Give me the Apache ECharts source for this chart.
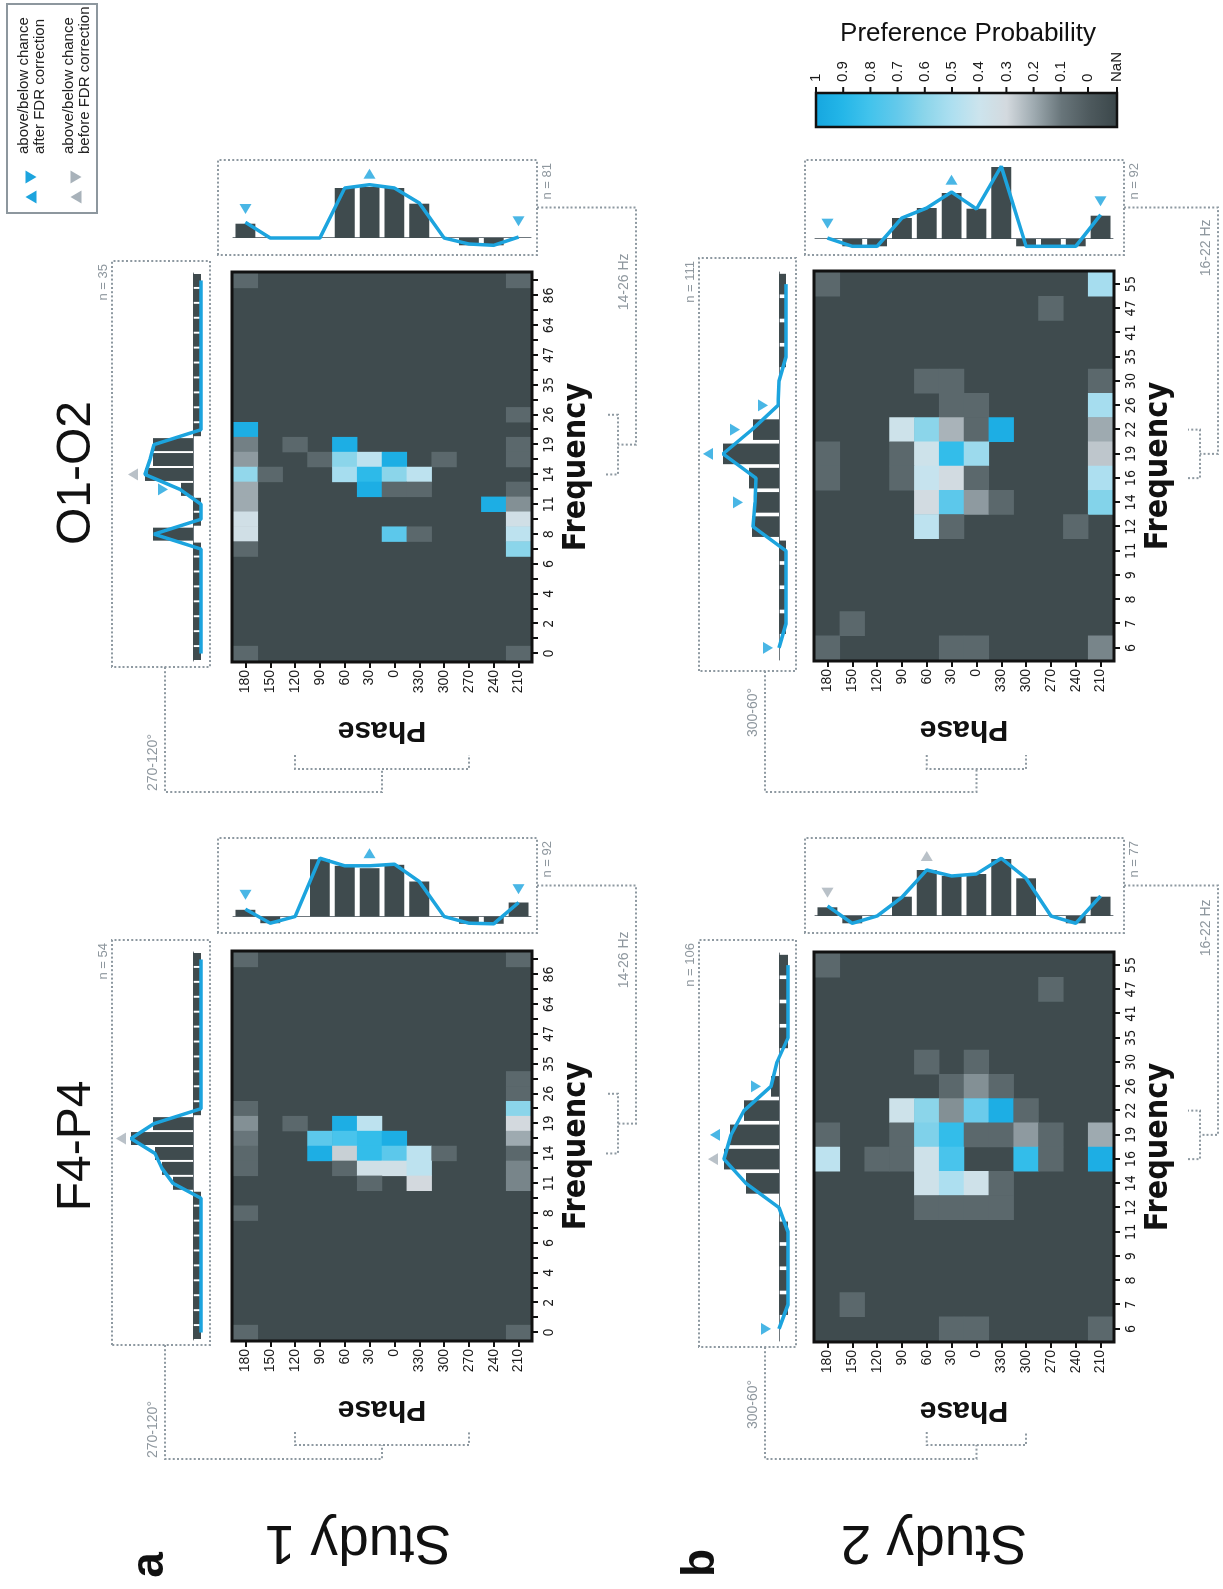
<!DOCTYPE html>
<html>
<head>
<meta charset="utf-8">
<script src="https://cdn.jsdelivr.net/npm/echarts/dist/echarts.min.js"></script>
<style>
html,body{margin:0;padding:0;background:#fff;}
body{width:1223px;height:1589px;overflow:hidden;position:relative;}
#rot{position:absolute;left:0;top:0;width:1589px;height:1223px;transform-origin:0 0;transform:translate(0px,1589px) rotate(-90deg);}
#chart{width:1589px;height:1223px;background:#fff;}
</style>
</head>
<body>
<div id="rot"><div id="chart"></div></div>
<script>
// ---------------- DATA ----------------
const PHASE = ['180','150','120','90','60','30','0','330','300','270','240','210'];
const FREQ_S1 = ['0','1','2','3','4','5','6','7','8','9','11','12','14','16','19','22','26','30','35','41','47','55','64','74','86','100'];
const FREQ_S2 = ['6','7','8','9','11','12','14','16','19','22','26','30','35','41','47','55'];
const PROB_TICKS = ['1','0.9','0.8','0.7','0.6','0.5','0.4','0.3','0.2','0.1','0','NaN'];
const TITLES = ['F4-P4','O1-O2'];
const STUDIES = ['Study 1','Study 2'];
const LETTERS = ['a','b'];
const PHASE_BANDS = [['120','270'],['60','300']];
const PHASE_BAND_LABELS = ['270-120°','300-60°'];
const FREQ_BANDS = [['14','26'],['16','22']];
const FREQ_BAND_LABELS = ['14-26 Hz','16-22 Hz'];
const LEGEND_LINES = [['above/below chance','after FDR correction'],['above/below chance','before FDR correction']];

// heatmap cells: [frequency index, phase index, preference probability]
const heatS1F4P4 = [
 [25,0,.05],[25,11,.05],[17,11,.05],[16,11,.05],[15,0,.05],[15,11,.6],
 [14,0,.15],[14,2,.05],[14,4,.95],[14,5,.45],[14,11,.3],
 [13,0,.1],[13,3,.72],[13,4,.78],[13,5,.85],[13,6,.95],[13,11,.2],
 [12,0,.05],[12,3,.95],[12,4,.28],[12,5,.85],[12,6,.72],[12,7,.45],[12,8,.05],[12,11,.05],
 [11,0,.05],[11,4,.05],[11,5,.35],[11,6,.35],[11,7,.45],[11,11,.13],
 [10,5,.05],[10,7,.3],[10,11,.13],[8,0,.05],[0,0,.05],[0,11,.05]
];
const heatS1O1O2 = [
 [25,0,.05],[25,11,.05],[16,11,.05],[15,0,.95],
 [14,0,.12],[14,2,.05],[14,4,.95],[14,11,.05],
 [13,0,.17],[13,3,.05],[13,4,.6],[13,5,.45],[13,6,.95],[13,8,.05],[13,11,.05],
 [12,0,.58],[12,1,.05],[12,4,.52],[12,5,.87],[12,6,.6],[12,7,.45],
 [11,0,.2],[11,5,.95],[11,6,.05],[11,7,.05],[11,11,.05],
 [10,0,.2],[10,10,.95],[10,11,.15],[9,0,.35],[9,11,.35],
 [8,0,.35],[8,6,.72],[8,7,.05],[8,11,.45],[7,0,.05],[7,11,.6],[0,0,.05],[0,11,.05]
];
const heatS2F4P4 = [
 [15,0,.05],[14,9,.05],[11,4,.05],[11,6,.05],[10,5,.05],[10,6,.15],[10,7,.05],
 [9,3,.38],[9,4,.6],[9,5,.15],[9,6,.68],[9,7,.95],[9,8,.05],
 [8,0,.05],[8,3,.05],[8,4,.63],[8,5,.85],[8,6,.05],[8,7,.05],[8,8,.17],[8,9,.05],[8,11,.2],
 [7,0,.45],[7,2,.05],[7,3,.05],[7,4,.37],[7,5,.78],[7,8,.85],[7,9,.05],[7,11,.95],
 [6,4,.37],[6,5,.5],[6,6,.37],[6,7,.05],[5,4,.05],[5,5,.05],[5,6,.05],[5,7,.05],
 [1,1,.05],[0,5,.05],[0,6,.05],[0,11,.05]
];
const heatS2O1O2 = [
 [15,0,.05],[15,11,.52],[14,9,.05],[11,4,.05],[11,5,.05],[11,11,.05],
 [10,5,.05],[10,6,.05],[10,11,.52],
 [9,3,.38],[9,4,.6],[9,5,.22],[9,6,.05],[9,7,.95],[9,11,.2],
 [8,0,.05],[8,3,.05],[8,4,.38],[8,5,.85],[8,6,.55],[8,11,.26],
 [7,0,.05],[7,3,.05],[7,4,.42],[7,5,.32],[7,6,.05],[7,11,.5],
 [6,4,.32],[6,5,.72],[6,6,.17],[6,7,.05],[6,11,.62],
 [5,4,.45],[5,5,.05],[5,10,.05],[1,1,.05],[0,0,.05],[0,5,.05],[0,6,.05],[0,11,.13]
];

// frequency histograms (bars + smoothed line), one value per frequency bin
const freqBarsS1F4P4 = [-0.8,-0.8,-0.8,-0.8,-0.8,-0.8,-0.8,-0.8,-0.8,-0.8,2.0,3.1,3.8,6.2,4.0,-0.8,-0.8,-0.8,-0.8,-0.8,-0.8,-0.8,-0.8,-0.8,-0.8,-0.8];
const freqLineS1F4P4 = [-0.8,-0.8,-0.8,-0.8,-0.8,-0.8,-0.8,-0.8,-0.8,-0.8,2.0,3.1,3.8,6.2,3.9,-0.8,-0.8,-0.8,-0.8,-0.8,-0.8,-0.8,-0.8,-0.8,-0.8,-0.8];
const freqBarsS1O1O2 = [-0.8,-0.8,-0.8,-0.8,-0.8,-0.8,-0.8,-0.8,4.0,-0.8,-0.8,1.2,4.8,4.0,4.0,-0.8,-0.8,-0.8,-0.8,-0.8,-0.8,-0.8,-0.8,-0.8,-0.8,-0.8];
const freqLineS1O1O2 = [-0.8,-0.8,-0.8,-0.8,-0.8,-0.8,-0.8,-0.8,3.9,-0.8,-0.8,1.3,4.8,4.3,3.9,-0.8,-0.8,-0.8,-0.8,-0.8,-0.8,-0.8,-0.8,-0.8,-0.8,-0.8];
const freqBarsS2F4P4 = [0,-0.9,-0.9,-0.9,-0.9,0,3.3,5.5,4.9,3.5,0.8,0,-0.9,-0.9,-0.9,-0.9];
const freqLineS2F4P4 = [0,-0.9,-0.9,-0.9,-0.9,0,3.3,5.5,4.8,3.5,0.8,0.2,-0.9,-0.9,-0.9,-0.9];
const freqBarsS2O1O2 = [0,-0.7,-0.7,-0.7,-0.7,2.7,2.4,3.0,5.6,2.6,0,0,-0.7,-0.7,-0.7,-0.7];
const freqLineS2O1O2 = [0,-0.7,-0.7,-0.7,-0.7,2.6,2.4,2.3,5.6,2.7,0.1,0,-0.7,-0.7,-0.7,-0.7];
// markers: [bin index, position value, direction (1 above / -1 below), 1 = after FDR, 0 = before FDR]
const freqMarksS1F4P4 = [[13,7.2,1,0]];
const freqMarksS1O1O2 = [[12,6.0,1,0],[11,3.0,-1,1]];
const freqMarksS2F4P4 = [[0,1.3,-1,1],[7,6.6,1,0],[8,6.4,1,1],[10,2.3,-1,1]];
const freqMarksS2O1O2 = [[0,1.1,-1,1],[6,4.1,-1,1],[8,7.1,1,1],[9,4.4,-1,1],[10,1.6,-1,1]];

// phase histograms, one value per phase bin (order of PHASE)
const phaseBarsS1F4P4 = [0.67,-0.67,0,5.73,5.07,4.83,5.17,3.5,0,-0.73,-0.73,1.4];
const phaseLineS1F4P4 = [0.73,-0.67,0,5.83,5.07,5.07,5.23,3.5,0,-0.67,-0.73,1.4];
const phaseBarsS1O1O2 = [1.43,0,0,0,5.0,5.1,5.0,3.43,0,-0.73,-0.73,0];
const phaseLineS1O1O2 = [1.57,0,0,0,5.0,5.33,5.0,3.5,0,-0.6,-0.73,0.1];
const phaseBarsS2F4P4 = [0.87,-0.73,0,1.93,4.6,4.0,4.2,5.7,3.77,0,-0.73,1.93];
const phaseLineS2F4P4 = [1.0,-0.73,0,1.87,4.6,4.0,4.2,5.77,3.77,0,-0.73,2.0];
const phaseBarsS2O1O2 = [0,-0.73,-0.73,2.1,3.1,4.6,3.03,7.2,-0.73,-0.73,-0.73,2.33];
const phaseLineS2O1O2 = [0.1,-0.73,-0.73,2.1,3.1,4.7,3.0,7.27,-0.73,-0.73,-0.73,2.43];
const phaseMarksS1F4P4 = [[0,2.17,-1,1],[5,6.33,1,1],[11,2.73,-1,1]];
const phaseMarksS1O1O2 = [[0,2.9,-1,1],[5,6.43,1,1],[11,1.67,-1,1]];
const phaseMarksS2F4P4 = [[0,2.33,-1,0],[4,6.0,1,0]];
const phaseMarksS2O1O2 = [[0,1.53,-1,1],[5,5.93,1,1],[11,3.77,-1,1]];

const N_FREQ = [54,35,106,111];
const N_PHASE = [92,81,77,92];

// ---------------- STYLE / LAYOUT ----------------
const SANS = "'Liberation Sans', Arial, Helvetica, sans-serif";
const NARROW = "'Liberation Sans Narrow', 'DejaVu Sans Condensed', 'Liberation Sans', sans-serif";
const BLUE = '#1ca4de', GREYM = '#a8b2ba', DARK = '#3f4b4e', ANN = '#8e99a1';
const COLORS = ['#4e5a5e','#68757a','#9eaab0','#d3d9de','#cce4ed','#addff0','#8bd5ea','#63c9eb','#42c3ec','#24b6e8','#15a6df'];
const W = 388, H = 298;
const PANELS = [
 {study:0,col:0,cats:FREQ_S1,heat:heatS1F4P4,fB:freqBarsS1F4P4,fL:freqLineS1F4P4,fM:freqMarksS1F4P4,pB:phaseBarsS1F4P4,pL:phaseLineS1F4P4,pM:phaseMarksS1F4P4,
  X0:249,Y0:233,fBase:193,pBase:672.5,fBox:[244,112,405,98],pBox:[656,218,95,319],
  conY:165,cornerX:130,brX:144,tkX:157,labX:131,fLabDx:46},
 {study:0,col:1,cats:FREQ_S1,heat:heatS1O1O2,fB:freqBarsS1O1O2,fL:freqLineS1O1O2,fM:freqMarksS1O1O2,pB:phaseBarsS1O1O2,pL:phaseLineS1O1O2,pM:phaseMarksS1O1O2,
  X0:928,Y0:233,fBase:193,pBase:1351,fBox:[922,112,406,98],pBox:[1334,218,95,319],
  conY:165,cornerX:797,brX:820,tkX:834,labX:798,fLabDx:46},
 {study:1,col:0,cats:FREQ_S2,heat:heatS2F4P4,fB:freqBarsS2F4P4,fL:freqLineS2F4P4,fM:freqMarksS2F4P4,pB:phaseBarsS2F4P4,pL:phaseLineS2F4P4,pM:phaseMarksS2F4P4,
  X0:248,Y0:815,fBase:779,pBase:673,fBox:[242,699,407,97],pBox:[656,805,95,319],
  conY:765,cornerX:130,brX:144,tkX:157,labX:160,fLabDx:14},
 {study:1,col:1,cats:FREQ_S2,heat:heatS2O1O2,fB:freqBarsS2O1O2,fL:freqLineS2O1O2,fM:freqMarksS2O1O2,pB:phaseBarsS2O1O2,pL:phaseLineS2O1O2,pM:phaseMarksS2O1O2,
  X0:929,Y0:815,fBase:779,pBase:1350,fBox:[918,699,413,97],pBox:[1334,805,95,319],
  conY:765,cornerX:797,brX:820,tkX:834,labX:852,fLabDx:12}
];

const grids = [], xAxes = [], yAxes = [], series = [], heatIdx = [];
const tickStyle = {show:true, alignWithLabel:true, interval:0, length:7, lineStyle:{color:'#111', width:2}};
PANELS.forEach((p, i) => {
  const hx = 3*i, fx = 3*i+1, px = 3*i+2;
  grids.push({left:p.X0, top:p.Y0, width:W, height:H, show:true, backgroundColor:DARK, borderWidth:0});
  xAxes.push({type:'category', gridIndex:hx, data:p.cats, axisLine:{show:false}, splitLine:{show:false},
    axisTick:tickStyle, axisLabel:{interval:p.study===0?1:0, margin:11, fontSize:14, fontFamily:NARROW, color:'#1a1a1a'},
    name:'Frequency', nameLocation:'middle', nameGap:30, nameTextStyle:{fontSize:32, fontWeight:'bold', fontFamily:NARROW, color:'#111'}});
  yAxes.push({type:'category', gridIndex:hx, data:PHASE, inverse:true, axisLine:{show:false}, splitLine:{show:false},
    axisTick:tickStyle, axisLabel:{interval:0, margin:9, fontSize:14, fontFamily:SANS, color:'#1a1a1a'},
    name:'Phase', nameLocation:'middle', nameRotate:90, nameGap:54, nameTextStyle:{fontSize:30, fontWeight:'bold', fontFamily:SANS, color:'#111'}});
  heatIdx.push(series.length);
  series.push({type:'heatmap', xAxisIndex:hx, yAxisIndex:hx, data:p.heat, silent:true, emphasis:{disabled:true}});
  grids.push({left:p.X0, top:p.fBase-80, width:W, height:93});
  xAxes.push({type:'category', gridIndex:fx, data:p.cats, axisLine:{show:true, onZero:true, lineStyle:{color:'#6f787e', width:1}}, axisTick:{show:false}, axisLabel:{show:false}});
  yAxes.push({type:'value', gridIndex:fx, min:-1.3, max:8, show:false, splitLine:{show:false}});
  series.push({type:'bar', xAxisIndex:fx, yAxisIndex:fx, data:p.fB, barCategoryGap:p.study===0?'13%':'15%', itemStyle:{color:DARK}, silent:true});
  series.push({type:'line', xAxisIndex:fx, yAxisIndex:fx, data:p.fL, symbol:'none', lineStyle:{color:BLUE, width:3.5}, z:3, silent:true});
  series.push({type:'scatter', xAxisIndex:fx, yAxisIndex:fx, symbol:'triangle', symbolSize:[12,10], z:4, silent:true,
    data:p.fM.map(m => ({value:[m[0], m[1]], symbolRotate:m[2]>0?0:180, itemStyle:{color:m[3]?BLUE:GREYM}}))});
  grids.push({left:p.pBase-15, top:p.Y0, width:95, height:H});
  xAxes.push({type:'value', gridIndex:px, min:-1.5, max:8, show:false, splitLine:{show:false}});
  yAxes.push({type:'category', gridIndex:px, data:PHASE, inverse:true, axisLine:{show:true, onZero:true, lineStyle:{color:'#6f787e', width:1}}, axisTick:{show:false}, axisLabel:{show:false}});
  series.push({type:'bar', xAxisIndex:px, yAxisIndex:px, data:p.pB, barCategoryGap:'20%', itemStyle:{color:DARK}, silent:true});
  series.push({type:'line', xAxisIndex:px, yAxisIndex:px, data:p.pL.map((v,k)=>[v,k]), symbol:'none', lineStyle:{color:BLUE, width:3.5}, z:3, silent:true});
  series.push({type:'scatter', xAxisIndex:px, yAxisIndex:px, symbol:'triangle', symbolSize:[12,10], z:4, silent:true,
    data:p.pM.map(m => ({value:[m[1], m[0]], symbolRotate:m[2]>0?-90:90, itemStyle:{color:m[3]?BLUE:GREYM}}))});
});

const chart = echarts.init(document.getElementById('chart'), null, {renderer:'canvas', width:1589, height:1223});
chart.setOption({
  animation:false,
  backgroundColor:'#ffffff',
  grid:grids, xAxis:xAxes, yAxis:yAxes, series:series,
  visualMap:{type:'continuous', show:false, min:0, max:1, seriesIndex:heatIdx, inRange:{color:COLORS}}
});

// ---------------- annotations ----------------
const G = [];
const DOT = {stroke:ANN, lineWidth:2, lineDash:[2,2.2], fill:null};
function poly(pts, st){ G.push({type:'polyline', silent:true, z:50, shape:{points:pts}, style:Object.assign({}, DOT, st||{})}); }
function box(x,y,w,h,st){ G.push({type:'rect', silent:true, z:50, shape:{x:x,y:y,width:w,height:h}, style:Object.assign({}, DOT, st||{})}); }
function txt(x,y,t,font,fill,al,va,rot){ G.push({type:'text', silent:true, z:60, x:x, y:y, rotation:rot||0,
  style:{text:t, font:font, fill:fill, textAlign:al, align:al, textVerticalAlign:va, verticalAlign:va}}); }
function tri(cx,cy,w,h,up,color){ const pts = up? [[cx-w/2,cy+h/2],[cx+w/2,cy+h/2],[cx,cy-h/2]] : [[cx-w/2,cy-h/2],[cx+w/2,cy-h/2],[cx,cy+h/2]];
  G.push({type:'polygon', silent:true, z:60, shape:{points:pts}, style:{fill:color}}); }

PANELS.forEach((p, i) => {
  const hx = 3*i;
  G.push({type:'rect', silent:true, z:55, shape:{x:p.X0-1, y:p.Y0-1, width:W+2, height:H+2}, style:{stroke:'#111', lineWidth:3, fill:null}});
  box(p.fBox[0], p.fBox[1], p.fBox[2], p.fBox[3]);
  box(p.pBox[0], p.pBox[1], p.pBox[2], p.pBox[3]);
  txt(p.fBox[0]+p.fBox[2]-3, p.fBox[1]-2, 'n = '+N_FREQ[i], '13px '+SANS, '#8e979e', 'right', 'bottom');
  txt(p.pBox[0]+p.pBox[2]-3, p.pBox[1]+p.pBox[3]+4, 'n = '+N_PHASE[i], '13px '+SANS, '#8e979e', 'right', 'top');
  const pb = PHASE_BANDS[p.study];
  const yA = chart.convertToPixel({yAxisIndex:hx}, PHASE.indexOf(pb[0]));
  const yB = chart.convertToPixel({yAxisIndex:hx}, PHASE.indexOf(pb[1]));
  const stemY = (yA+yB)/2;
  poly([[p.fBox[0], p.conY],[p.cornerX, p.conY],[p.cornerX, stemY],[p.brX, stemY]]);
  poly([[p.tkX, yA],[p.brX, yA],[p.brX, yB],[p.tkX, yB]]);
  txt(p.labX, p.conY-5, PHASE_BAND_LABELS[p.study], '14px '+SANS, '#8e979e', 'left', 'bottom');
  const fb = FREQ_BANDS[p.study];
  const xA = chart.convertToPixel({xAxisIndex:hx}, p.cats.indexOf(fb[0]));
  const xB = chart.convertToPixel({xAxisIndex:hx}, p.cats.indexOf(fb[1]));
  const pMidX = p.pBox[0] + p.pBox[2]/2, pBot = p.pBox[1] + p.pBox[3];
  const downY = p.Y0 + H + 105, brY = p.Y0 + H + 87, tkY = p.Y0 + H + 75, stemX = (xA+xB)/2;
  poly([[pMidX, pBot],[pMidX, downY],[stemX, downY],[stemX, brY]]);
  poly([[xA, tkY],[xA, brY],[xB, brY],[xB, tkY]]);
  txt(pMidX-p.fLabDx, downY-5, FREQ_BAND_LABELS[p.study], '14px '+SANS, '#8e979e', 'right', 'bottom');
});

txt(443, 77, TITLES[0], '48px '+SANS, '#111', 'center', 'middle');
txt(1116, 77, TITLES[1], '48px '+SANS, '#111', 'center', 'middle');
txt(48, 358, STUDIES[0], '55px '+SANS, '#111', 'center', 'middle', Math.PI/2);
txt(48, 934, STUDIES[1], '55px '+SANS, '#111', 'center', 'middle', Math.PI/2);
txt(24, 150, LETTERS[0], 'bold 46px '+SANS, '#111', 'center', 'middle');
txt(26, 701, LETTERS[1], 'bold 46px '+SANS, '#111', 'center', 'middle');

G.push({type:'rect', silent:true, z:50, shape:{x:1376, y:7, width:209, height:90}, style:{stroke:'#8d979e', lineWidth:2, fill:null}});
tri(1392, 31, 13, 11, true, BLUE); tri(1412, 31, 13, 11, false, BLUE);
tri(1392, 76, 13, 11, true, GREYM); tri(1412, 76, 13, 11, false, GREYM);
txt(1435, 24, LEGEND_LINES[0][0], '15px '+SANS, '#222', 'left', 'middle');
txt(1435, 40, LEGEND_LINES[0][1], '15px '+SANS, '#222', 'left', 'middle');
txt(1435, 69, LEGEND_LINES[1][0], '15px '+SANS, '#222', 'left', 'middle');
txt(1435, 85, LEGEND_LINES[1][1], '15px '+SANS, '#222', 'left', 'middle');

const CB = {x:1462, y:816, w:34, h:301, span:272};
const stops = COLORS.map((c, k) => ({offset:(1 - k/10)*CB.span/CB.h, color:c})).reverse();
stops.push({offset:1, color:'#3a4649'});
G.push({type:'rect', silent:true, z:50, shape:{x:CB.x, y:CB.y, width:CB.w, height:CB.h},
  style:{fill:new echarts.graphic.LinearGradient(0,0,0,1,stops), stroke:'#111', lineWidth:2.5}});
PROB_TICKS.forEach((t, k) => {
  const y = k < 11 ? CB.y + k*CB.span/10 : CB.y + CB.h;
  G.push({type:'line', silent:true, z:51, shape:{x1:CB.x+CB.w, y1:y, x2:CB.x+CB.w+6, y2:y}, style:{stroke:'#111', lineWidth:2}});
  txt(CB.x+CB.w+11, y, t, '15px '+SANS, '#1a1a1a', 'left', 'middle');
});
txt(1555, 968, 'Preference Probability', '26px '+SANS, '#111', 'center', 'middle', -Math.PI/2);

chart.setOption({graphic:{elements:G}});
</script>
</body>
</html>
